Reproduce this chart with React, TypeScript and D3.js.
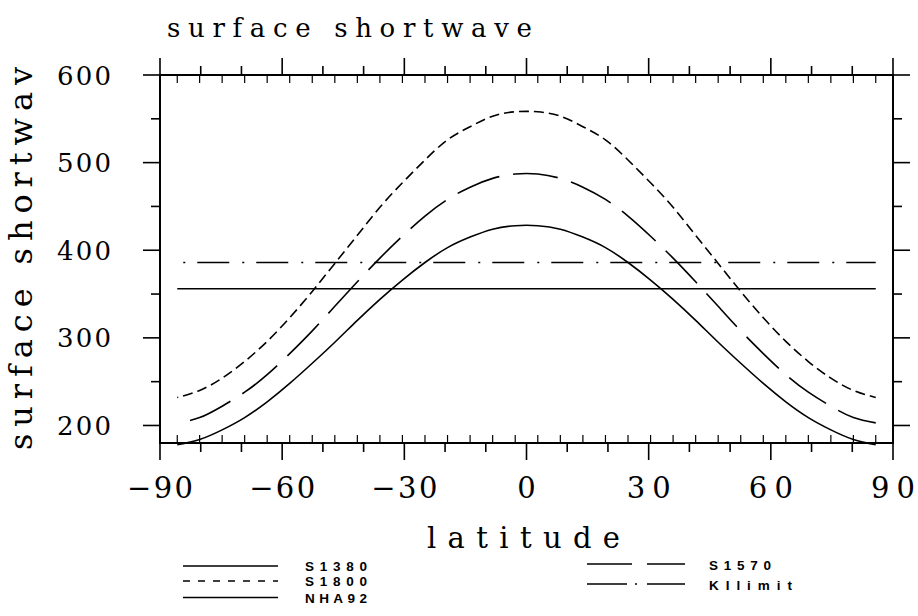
import React from 'react';
import * as d3 from 'd3';

// T21 Gaussian latitudes used by the model output
const LATS = [
  -85.76, -80.27, -74.74, -69.21, -63.68, -58.15, -52.61, -47.07, -41.54, -36.0, -30.47,
  -24.93, -19.39, -13.85, -8.31, -2.77, 2.77, 8.31, 13.85, 19.39, 24.93, 30.47, 36.0,
  41.54, 47.07, 52.61, 58.15, 63.68, 69.21, 74.74, 80.27, 85.76,
];

const S1380 = [
  178, 184, 195, 209, 227, 248, 271, 295, 320, 344, 366, 386, 403, 415, 424, 428,
  428, 424, 415, 403, 386, 366, 344, 320, 295, 271, 248, 227, 209, 195, 184, 178,
];
const S1570 = [
  203, 209, 222, 238, 258, 282, 308, 336, 364, 391, 416, 439, 458, 472, 482, 487,
  487, 482, 472, 458, 439, 416, 391, 364, 336, 308, 282, 258, 238, 222, 209, 203,
];
const S1800 = [
  232, 240, 254, 273, 296, 323, 353, 385, 417, 449, 477, 503, 526, 541, 553, 558,
  558, 553, 541, 526, 503, 477, 449, 417, 385, 353, 323, 296, 273, 254, 240, 232,
];

const FLAT_LATS = [-85.76, 85.76];
const NHA92 = [356, 356];
const KILIMIT = [386, 386];

const X_TICKS = [-90, -60, -30, 0, 30, 60, 90];
const X_TICK_LABELS = ['\u221290', '\u221260', '\u221230', '0', '30', '60', '90'];
const Y_TICKS = [200, 300, 400, 500, 600];
const Y_TICK_LABELS = ['200', '300', '400', '500', '600'];

const TITLE = 'surface shortwave';
const Y_TITLE = 'surface shortwav';
const X_TITLE = 'latitude';

const LEGEND_LEFT = ['S1380', 'S1800', 'NHA92'];
const LEGEND_RIGHT = ['S1570', 'KIlimit'];

export default function App() {
  const W = 918;
  const H = 616;
  const x = d3.scaleLinear().domain([-90, 90]).range([160, 893]);
  const y = d3.scaleLinear().domain([180, 600]).range([443, 75]);
  const [x0, x1] = x.range();
  const [yb, yt] = y.range();

  const curve = (vals: number[], lats: number[]) =>
    d3
      .line<number>()
      .x((_, i) => x(lats[i]))
      .y((d) => y(d))
      .curve(d3.curveNatural)(vals) as string;

  const serif = '"DejaVu Serif", "Liberation Serif", serif';
  const sans = '"Liberation Sans", Arial, sans-serif';

  const xMinor = d3.range(-90, 91, 10);
  const yMinor = d3.range(200, 601, 50);

  const stroke = '#000';

  return (
    <svg
      width={W}
      height={H}
      style={{ position: 'absolute', left: 0, top: 0, background: '#fff' }}
    >
      <rect x={0} y={0} width={W} height={H} fill="#fff" />
      {/* title */}
      <text
        x={167}
        y={37}
        fontFamily={serif}
        fontSize={26}
        textLength={365}
        lengthAdjust="spacing"
        fill="#000"
      >
        {TITLE}
      </text>

      {/* data lines */}
      <g fill="none" stroke={stroke} strokeWidth={1.6}>
        <path d={curve(S1380, LATS)} />
        <path d={curve(S1800, LATS)} strokeDasharray="10,5" strokeDashoffset={9} />
        <path d={curve(S1570, LATS)} strokeDasharray="45,14" strokeDashoffset={46} />
        <path d={curve(NHA92, FLAT_LATS)} />
        <path d={curve(KILIMIT, FLAT_LATS)} strokeDasharray="32,13,2,12" strokeDashoffset={39} />
      </g>

      {/* frame */}
      <rect x={x0} y={yt} width={x1 - x0} height={yb - yt} fill="none" stroke={stroke} strokeWidth={2} />

      {/* ticks */}
      <g stroke={stroke} strokeWidth={1.6}>
        {xMinor.map((v) => {
          const len = v % 30 === 0 ? 17 : 9;
          return (
            <g key={'xt' + v}>
              <line x1={x(v)} x2={x(v)} y1={yt} y2={yt - len} />
              <line x1={x(v)} x2={x(v)} y1={yb} y2={yb + len} />
            </g>
          );
        })}
        {LATS.map((v) => (
          <g key={'xi' + v}>
            <line x1={x(v)} x2={x(v)} y1={yt} y2={yt + 8} strokeWidth={1.2} />
            <line x1={x(v)} x2={x(v)} y1={yb} y2={yb - 8} strokeWidth={1.2} />
          </g>
        ))}
        {yMinor.map((v) => {
          const len = v % 100 === 0 ? 17 : 9;
          return (
            <g key={'yt' + v}>
              <line x1={x0} x2={x0 - len} y1={y(v)} y2={y(v)} />
              <line x1={x1} x2={x1 + len} y1={y(v)} y2={y(v)} />
            </g>
          );
        })}
      </g>

      {/* x tick labels */}
      {X_TICKS.map((v, i) => {
        const lab = X_TICK_LABELS[i];
        const len = lab.length === 1 ? undefined : lab.startsWith('\u2212') ? 66 : 44;
        return (
          <text
            key={'xl' + v}
            x={x(v)}
            y={498}
            textAnchor="middle"
            fontFamily={serif}
            fontSize={29}
            textLength={len}
            lengthAdjust={len ? 'spacing' : undefined}
            fill="#000"
          >
            {lab}
          </text>
        );
      })}

      {/* y tick labels */}
      {Y_TICKS.map((v, i) => (
        <text
          key={'yl' + v}
          x={57}
          y={y(v) + 9.5}
          fontFamily={serif}
          fontSize={26}
          textLength={54}
          lengthAdjust="spacing"
          fill="#000"
        >
          {Y_TICK_LABELS[i]}
        </text>
      ))}

      {/* axis titles */}
      <text
        x={427}
        y={548}
        fontFamily={serif}
        fontSize={29}
        textLength={193}
        lengthAdjust="spacing"
        fill="#000"
      >
        {X_TITLE}
      </text>
      <text
        transform="translate(32,450) rotate(-90)"
        fontFamily={serif}
        fontSize={32}
        textLength={383}
        lengthAdjust="spacing"
        fill="#000"
      >
        {Y_TITLE}
      </text>

      {/* legend */}
      <g stroke={stroke} strokeWidth={1.6}>
        <line x1={183} x2={278} y1={566} y2={566} />
        <line x1={183} x2={278} y1={581} y2={581} strokeDasharray="7,8" />
        <line x1={183} x2={278} y1={597.5} y2={597.5} />
        <line x1={587} x2={685} y1={564} y2={564} strokeDasharray="45,15" />
        <line x1={587} x2={685} y1={584} y2={584} strokeDasharray="40,8,2,10" />
      </g>
      <g fontFamily={sans} fontWeight="bold" fontSize={13.5} fill="#000">
        <text x={305} y={571} textLength={62} lengthAdjust="spacing">{LEGEND_LEFT[0]}</text>
        <text x={305} y={586} textLength={62} lengthAdjust="spacing">{LEGEND_LEFT[1]}</text>
        <text x={305} y={602.5} textLength={62} lengthAdjust="spacing">{LEGEND_LEFT[2]}</text>
        <text x={709} y={570} textLength={62} lengthAdjust="spacing">{LEGEND_RIGHT[0]}</text>
        <text x={709} y={590} textLength={83} lengthAdjust="spacing">{LEGEND_RIGHT[1]}</text>
      </g>
    </svg>
  );
}
